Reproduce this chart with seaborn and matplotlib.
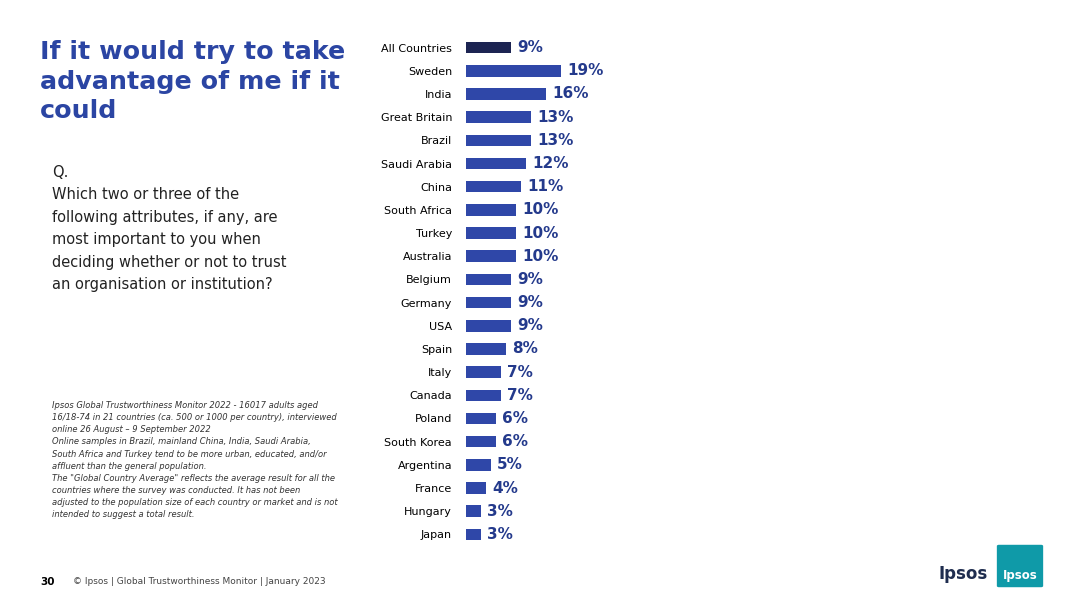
import matplotlib
matplotlib.use("Agg")
import matplotlib.pyplot as plt
import seaborn as sns
import pandas as pd
from matplotlib.patches import FancyBboxPatch

countries = ["All Countries","Sweden","India","Great Britain","Brazil","Saudi Arabia","China",
             "South Africa","Turkey","Australia","Belgium","Germany","USA","Spain","Italy",
             "Canada","Poland","South Korea","Argentina","France","Hungary","Japan"]
values = [9,19,16,13,13,12,11,10,10,10,9,9,9,8,7,7,6,6,5,4,3,3]

df = pd.DataFrame({"country": countries, "value": values})
palette = ["#1c2452"] + ["#2f47a8"] * (len(countries) - 1)

fig = plt.figure(figsize=(10.8, 6.07), dpi=100)
fig.patch.set_facecolor("white")
ax = fig.add_axes([466/1080, 1-546/607, 300/1080, 510/607])
sns.barplot(data=df, y="country", x="value", hue="country", palette=palette,
            legend=False, ax=ax, width=0.5, saturation=1)
ax.set_xlim(0, 60)
ax.set_ylim(21.5, -0.5)
for i, v in enumerate(values):
    ax.text(v + 1.2, i, f"{v}%", va="center", ha="left", fontsize=11,
            fontweight="bold", color="#243a8c")
ax.set_xlabel(""); ax.set_ylabel("")
ax.set_xticks([])
ax.tick_params(axis="y", length=0, labelsize=8, pad=10)
for s in ax.spines.values():
    s.set_visible(False)

fig.text(40/1080, 1-40/607, "If it would try to take\nadvantage of me if it\ncould", fontsize=18.3,
         fontweight="bold", color="#2b45a3", va="top", ha="left", linespacing=1.3)
fig.text(52/1080, 1-165/607, "Q.\nWhich two or three of the\nfollowing attributes, if any, are\nmost important to you when\ndeciding whether or not to trust\nan organisation or institution?",
         fontsize=10.5, color="#222222", va="top", ha="left", linespacing=1.62)
note = ("Ipsos Global Trustworthiness Monitor 2022 - 16017 adults aged\n"
        "16/18-74 in 21 countries (ca. 500 or 1000 per country), interviewed\n"
        "online 26 August – 9 September 2022\n"
        "Online samples in Brazil, mainland China, India, Saudi Arabia,\n"
        "South Africa and Turkey tend to be more urban, educated, and/or\n"
        "affluent than the general population.\n"
        "The \"Global Country Average\" reflects the average result for all the\n"
        "countries where the survey was conducted. It has not been\n"
        "adjusted to the population size of each country or market and is not\n"
        "intended to suggest a total result.")
fig.text(52/1080, 1-401/607, note, fontsize=6, style="italic", color="#333333",
         va="top", ha="left", linespacing=1.45)
fig.text(40/1080, 1-582/607, "30", fontsize=7.5, fontweight="bold", va="center")
fig.text(73/1080, 1-582/607, "© Ipsos | Global Trustworthiness Monitor | January 2023",
         fontsize=6.5, color="#444444", va="center")
fig.text(963/1080, 1-574/607, "Ipsos", fontsize=12, fontweight="bold", color="#1f2d4f",
         va="center", ha="center")
fig.patches.append(FancyBboxPatch((999/1080, 1-586/607), 42/1080, 40/607,
                                  boxstyle="round,pad=0.002", transform=fig.transFigure,
                                  facecolor="#0f9aa8", edgecolor="none"))
fig.text(1020/1080, 1-576/607, "Ipsos", fontsize=8.5, fontweight="bold", color="white",
         va="center", ha="center")
fig.savefig("out.png", dpi=100)
